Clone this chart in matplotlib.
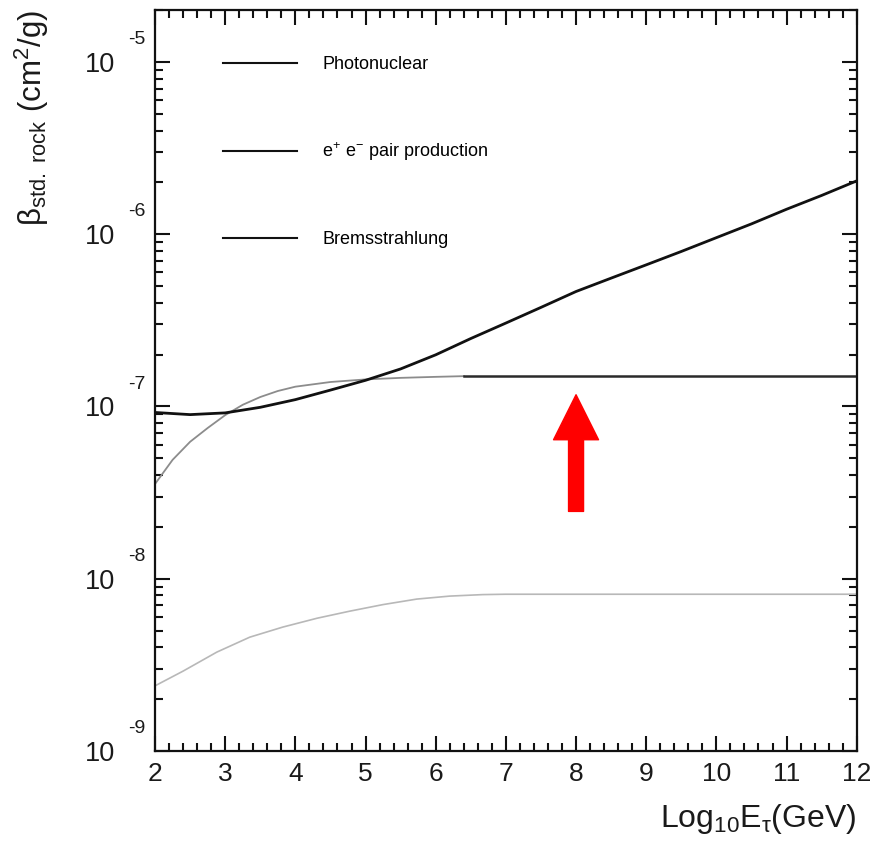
import matplotlib
matplotlib.use("Agg")
import matplotlib.pyplot as plt
from matplotlib.lines import Line2D
from matplotlib.ticker import AutoMinorLocator, LogLocator, FixedLocator, NullFormatter
import numpy as np

plt.rcParams['font.family'] = ['Liberation Sans', 'DejaVu Sans']
plt.rcParams['mathtext.fontset'] = 'custom'
plt.rcParams['mathtext.rm'] = 'Liberation Sans'
plt.rcParams['mathtext.it'] = 'Liberation Sans:italic'
plt.rcParams['mathtext.bf'] = 'Liberation Sans:bold'

# photonuclear (black, rising)
e_photo = [2, 2.5, 3, 3.5, 4, 4.5, 5, 5.5, 6, 6.5, 7, 7.5, 8, 8.5, 9, 9.5, 10, 10.5, 11, 11.5, 12]
b_photo = [9.23e-8, 8.97e-8, 9.18e-8, 9.89e-8, 1.096e-7, 1.245e-7, 1.419e-7, 1.652e-7, 1.995e-7,
           2.48e-7, 3.05e-7, 3.76e-7, 4.65e-7, 5.56e-7, 6.64e-7, 7.94e-7, 9.55e-7, 1.148e-6,
           1.396e-6, 1.679e-6, 2.04e-6]

# e+e- pair production (grey part, then flat black part)
e_pair = [2, 2.25, 2.5, 2.75, 3, 3.25, 3.5, 3.75, 4, 4.5, 5, 5.5, 6, 6.4]
b_pair = [3.55e-8, 4.90e-8, 6.24e-8, 7.50e-8, 8.91e-8, 1.023e-7, 1.135e-7, 1.230e-7, 1.303e-7,
          1.387e-7, 1.436e-7, 1.466e-7, 1.486e-7, 1.500e-7]
e_pair_hi = [6.4, 12]
b_pair_hi = [1.51e-7, 1.51e-7]

# bremsstrahlung (light grey)
e_brems = [2, 2.4, 2.88, 3.35, 3.82, 4.31, 4.78, 5.25, 5.73, 6.2, 6.67, 7, 12]
b_brems = [2.39e-9, 2.91e-9, 3.75e-9, 4.58e-9, 5.24e-9, 5.90e-9, 6.49e-9, 7.08e-9, 7.62e-9,
           7.93e-9, 8.09e-9, 8.13e-9, 8.13e-9]

labels = ['Photonuclear', r'e$^{+}$ e$^{-}$ pair production', 'Bremsstrahlung']
ytick_vals = [1e-9, 1e-8, 1e-7, 1e-6, 1e-5]
ytick_exp = ['-9', '-8', '-7', '-6', '-5']

# arrow (points at the flat pair-production line)
arrow_x = 8
arrow_tip = 1.17e-7
arrow_tail = 2.46e-8

fig = plt.figure(figsize=(8.71, 8.41), dpi=100)
ax = fig.add_axes([0.178, 0.107, 0.8056, 0.881])

ax.plot(e_brems, b_brems, color='#b8b8b8', lw=1.2)
ax.plot(e_pair, b_pair, color='#8c8c8c', lw=1.3)
ax.plot(e_pair_hi, b_pair_hi, color='#2a2a2a', lw=1.8)
ax.plot(e_photo, b_photo, color='#111111', lw=2.0)

ax.set_yscale('log')
ax.set_xlim(2, 12)
ax.set_ylim(1e-9, 2e-5)

ax.xaxis.set_major_locator(FixedLocator(range(2, 13)))
ax.xaxis.set_minor_locator(AutoMinorLocator(5))
ax.yaxis.set_major_locator(FixedLocator(ytick_vals))
ax.yaxis.set_minor_locator(LogLocator(base=10, subs=np.arange(2, 10)))
ax.yaxis.set_minor_formatter(NullFormatter())
ax.set_yticklabels(['10'] * len(ytick_vals))

ax.tick_params(which='both', direction='in', top=True, right=True, width=1.5, color='#111111')
ax.tick_params(which='major', length=11)
ax.tick_params(which='minor', length=6)
ax.tick_params(axis='x', which='major', labelsize=19, pad=8, labelcolor='#1a1a1a')
ax.tick_params(axis='y', which='major', labelsize=19.5, pad=29, labelcolor='#1a1a1a')
for s in ax.spines.values():
    s.set_linewidth(1.6)
    s.set_color('#111111')

for v, t in zip(ytick_vals, ytick_exp):
    ax.annotate(t, xy=(0, v), xycoords=('axes fraction', 'data'), xytext=(-19.5, 16),
                textcoords='offset points', ha='left', va='center', fontsize=14, color='#1a1a1a')

ax.text(1.0, -0.1026, r'Log$_{10}$E$_{\mathrm{τ}}$(GeV)', transform=ax.transAxes,
        ha='right', va='baseline', fontsize=23, color='#1a1a1a')
ax.text(-0.175, 1.0, r'$\mathrm{\beta}_{\mathrm{std.\ rock}}$ (cm$^{2}$/g)', transform=ax.transAxes,
        rotation=90, ha='center', va='top', fontsize=22.5, color='#1a1a1a')

handles = [Line2D([], [], color='#111111', lw=1.5) for _ in labels]
ax.legend(handles, labels, loc='upper left', bbox_to_anchor=(0.097, 0.938), frameon=False,
          fontsize=13, handlelength=4.1, handletextpad=1.4, labelspacing=3.75,
          borderpad=0, borderaxespad=0)

ax.annotate('', xy=(arrow_x, arrow_tip), xytext=(arrow_x, arrow_tail),
            arrowprops=dict(arrowstyle='simple,head_length=3,head_width=3,tail_width=1',
                            mutation_scale=10.8, color='red', shrinkA=0, shrinkB=0))

fig.savefig('out.png', dpi=100)
